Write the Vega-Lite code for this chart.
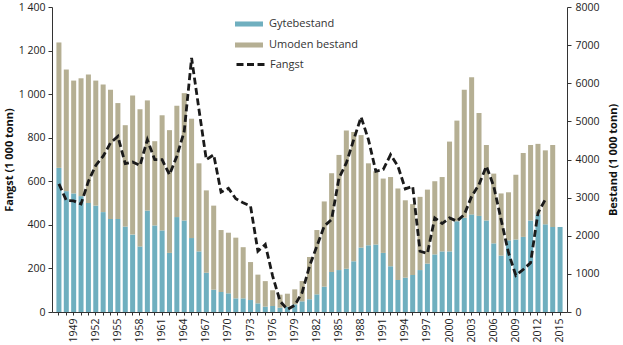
{
  "$schema": "https://vega.github.io/schema/vega-lite/v6.json",
  "width": 515,
  "height": 305,
  "autosize": {"type": "none"},
  "padding": {"left": 52, "top": 7, "right": 56, "bottom": 33},
  "config": {
    "view": {"stroke": null},
    "font": "Open Sans",
    "axis": {"labelFont": "Open Sans", "titleFont": "Open Sans", "domainColor": "#333", "tickColor": "#333", "labelColor": "#222", "titleColor": "#111", "grid": false, "labelFontSize": 10.5, "titleFontSize": 11, "titleFontWeight": "bold"},
    "legend": {"labelFont": "Open Sans", "labelFontSize": 11, "labelColor": "#333", "padding": 0}
  },
  "datasets": {
    "d": [
      {"year": 1947, "Gytebestand": 3780, "Umoden bestand": 3290, "Fangst": 588},
      {"year": 1948, "Gytebestand": 3170, "Umoden bestand": 3190, "Fangst": 512},
      {"year": 1949, "Gytebestand": 3110, "Umoden bestand": 2960, "Fangst": 510},
      {"year": 1950, "Gytebestand": 3040, "Umoden bestand": 3090, "Fangst": 496},
      {"year": 1951, "Gytebestand": 2860, "Umoden bestand": 3370, "Fangst": 600},
      {"year": 1952, "Gytebestand": 2790, "Umoden bestand": 3280, "Fangst": 673},
      {"year": 1953, "Gytebestand": 2620, "Umoden bestand": 3350, "Fangst": 715},
      {"year": 1954, "Gytebestand": 2440, "Umoden bestand": 3390, "Fangst": 776},
      {"year": 1955, "Gytebestand": 2440, "Umoden bestand": 3040, "Fangst": 806},
      {"year": 1956, "Gytebestand": 2240, "Umoden bestand": 2660, "Fangst": 681},
      {"year": 1957, "Gytebestand": 2030, "Umoden bestand": 3650, "Fangst": 689},
      {"year": 1958, "Gytebestand": 1720, "Umoden bestand": 3600, "Fangst": 672},
      {"year": 1959, "Gytebestand": 2660, "Umoden bestand": 2890, "Fangst": 791},
      {"year": 1960, "Gytebestand": 2270, "Umoden bestand": 2210, "Fangst": 699},
      {"year": 1961, "Gytebestand": 2140, "Umoden bestand": 3020, "Fangst": 699},
      {"year": 1962, "Gytebestand": 1550, "Umoden bestand": 3220, "Fangst": 630},
      {"year": 1963, "Gytebestand": 2490, "Umoden bestand": 2920, "Fangst": 715},
      {"year": 1964, "Gytebestand": 2400, "Umoden bestand": 3340, "Fangst": 829},
      {"year": 1965, "Gytebestand": 1940, "Umoden bestand": 3130, "Fangst": 1166},
      {"year": 1966, "Gytebestand": 1590, "Umoden bestand": 2310, "Fangst": 930},
      {"year": 1967, "Gytebestand": 1030, "Umoden bestand": 2160, "Fangst": 699},
      {"year": 1968, "Gytebestand": 585, "Umoden bestand": 2205, "Fangst": 722},
      {"year": 1969, "Gytebestand": 524, "Umoden bestand": 1626, "Fangst": 550},
      {"year": 1970, "Gytebestand": 490, "Umoden bestand": 1590, "Fangst": 568},
      {"year": 1971, "Gytebestand": 358, "Umoden bestand": 1592, "Fangst": 520},
      {"year": 1972, "Gytebestand": 358, "Umoden bestand": 1342, "Fangst": 501},
      {"year": 1973, "Gytebestand": 314, "Umoden bestand": 996, "Fangst": 486},
      {"year": 1974, "Gytebestand": 227, "Umoden bestand": 753, "Fangst": 279},
      {"year": 1975, "Gytebestand": 140, "Umoden bestand": 670, "Fangst": 310},
      {"year": 1976, "Gytebestand": 157, "Umoden bestand": 413, "Fangst": 165},
      {"year": 1977, "Gytebestand": 114, "Umoden bestand": 340, "Fangst": 50},
      {"year": 1978, "Gytebestand": 140, "Umoden bestand": 340, "Fangst": 12},
      {"year": 1979, "Gytebestand": 200, "Umoden bestand": 394, "Fangst": 31},
      {"year": 1980, "Gytebestand": 280, "Umoden bestand": 532, "Fangst": 89},
      {"year": 1981, "Gytebestand": 332, "Umoden bestand": 1108, "Fangst": 211},
      {"year": 1982, "Gytebestand": 463, "Umoden bestand": 1687, "Fangst": 302},
      {"year": 1983, "Gytebestand": 664, "Umoden bestand": 2236, "Fangst": 394},
      {"year": 1984, "Gytebestand": 1050, "Umoden bestand": 2590, "Fangst": 425},
      {"year": 1985, "Gytebestand": 1100, "Umoden bestand": 3020, "Fangst": 615},
      {"year": 1986, "Gytebestand": 1135, "Umoden bestand": 3625, "Fangst": 684},
      {"year": 1987, "Gytebestand": 1330, "Umoden bestand": 3390, "Fangst": 791},
      {"year": 1988, "Gytebestand": 1690, "Umoden bestand": 2950, "Fangst": 895},
      {"year": 1989, "Gytebestand": 1750, "Umoden bestand": 2150, "Fangst": 791},
      {"year": 1990, "Gytebestand": 1770, "Umoden bestand": 1920, "Fangst": 646},
      {"year": 1991, "Gytebestand": 1550, "Umoden bestand": 1950, "Fangst": 654},
      {"year": 1992, "Gytebestand": 1200, "Umoden bestand": 2340, "Fangst": 722},
      {"year": 1993, "Gytebestand": 840, "Umoden bestand": 2400, "Fangst": 669},
      {"year": 1994, "Gytebestand": 900, "Umoden bestand": 2030, "Fangst": 565},
      {"year": 1995, "Gytebestand": 970, "Umoden bestand": 1860, "Fangst": 577},
      {"year": 1996, "Gytebestand": 1100, "Umoden bestand": 1920, "Fangst": 279},
      {"year": 1997, "Gytebestand": 1270, "Umoden bestand": 1940, "Fangst": 269},
      {"year": 1998, "Gytebestand": 1510, "Umoden bestand": 1920, "Fangst": 432},
      {"year": 1999, "Gytebestand": 1590, "Umoden bestand": 1950, "Fangst": 406},
      {"year": 2000, "Gytebestand": 1590, "Umoden bestand": 2880, "Fangst": 432},
      {"year": 2001, "Gytebestand": 2380, "Umoden bestand": 2640, "Fangst": 417},
      {"year": 2002, "Gytebestand": 2470, "Umoden bestand": 3360, "Fangst": 447},
      {"year": 2003, "Gytebestand": 2560, "Umoden bestand": 3600, "Fangst": 531},
      {"year": 2004, "Gytebestand": 2520, "Umoden bestand": 2700, "Fangst": 585},
      {"year": 2005, "Gytebestand": 2400, "Umoden bestand": 1980, "Fangst": 669},
      {"year": 2006, "Gytebestand": 1800, "Umoden bestand": 1830, "Fangst": 577},
      {"year": 2007, "Gytebestand": 1480, "Umoden bestand": 1630, "Fangst": 424},
      {"year": 2008, "Gytebestand": 1880, "Umoden bestand": 1260, "Fangst": 272},
      {"year": 2009, "Gytebestand": 1900, "Umoden bestand": 1700, "Fangst": 168},
      {"year": 2010, "Gytebestand": 1970, "Umoden bestand": 2200, "Fangst": 195},
      {"year": 2011, "Gytebestand": 2400, "Umoden bestand": 1980, "Fangst": 226},
      {"year": 2012, "Gytebestand": 2560, "Umoden bestand": 1850, "Fangst": 455},
      {"year": 2013, "Gytebestand": 2300, "Umoden bestand": 1940, "Fangst": 516},
      {"year": 2014, "Gytebestand": 2230, "Umoden bestand": 2150, "Fangst": null},
      {"year": 2015, "Gytebestand": 2230, "Umoden bestand": 0, "Fangst": null}
    ]
  },
  "data": {"name": "d"},
  "encoding": {
    "x": {
      "field": "year",
      "type": "ordinal",
      "scale": {"paddingInner": 0.32, "paddingOuter": 0.6},
      "axis": {
        "title": null,
        "labelAngle": -90,
        "labelAlign": "right",
        "labelBaseline": "middle",
        "labelExpr": "(datum.value - 1949) % 3 == 0 ? datum.value : ''",
        "labelOverlap": false,
        "tickSize": 3,
        "labelPadding": 3
      }
    }
  },
  "layer": [
    {
      "transform": [{"fold": ["Gytebestand", "Umoden bestand"], "as": ["serie", "value"]}],
      "mark": {"type": "bar"},
      "encoding": {
        "y": {
          "field": "value",
          "type": "quantitative",
          "stack": "zero",
          "scale": {"domain": [0, 8000], "nice": false},
          "axis": {"orient": "right", "title": "Bestand (1 000 tonn)", "values": [0, 1000, 2000, 3000, 4000, 5000, 6000, 7000, 8000], "format": "d", "tickSize": 4, "labelPadding": 4, "titleAngle": 270, "titlePadding": 19}
        },
        "color": {
          "field": "serie",
          "type": "nominal",
          "scale": {"domain": ["Gytebestand", "Umoden bestand"], "range": ["#6fafbf", "#b5af93"]},
          "legend": {"title": null, "orient": "none", "legendX": 183, "legendY": 3, "symbolType": "M-1,-0.18L1,-0.18L1,0.18L-1,0.18Z", "symbolSize": 784, "symbolStrokeWidth": 0, "labelOffset": 6, "rowPadding": 2}
        },
        "order": {"field": "serie", "sort": "ascending"}
      }
    },
    {
      "mark": {"type": "line", "strokeWidth": 2.8, "color": "#1a1a1a", "strokeCap": "butt"},
      "encoding": {
        "y": {
          "field": "Fangst",
          "type": "quantitative",
          "scale": {"domain": [0, 1400], "nice": false},
          "axis": {"orient": "left", "title": "Fangst (1 000 tonn)", "values": [0, 200, 400, 600, 800, 1000, 1200, 1400], "format": ",d", "labelExpr": "replace(datum.label, ',', ' ')", "tickSize": 4, "labelPadding": 3, "titlePadding": 4}
        },
        "strokeDash": {
          "datum": "Fangst",
          "type": "nominal",
          "scale": {"domain": ["Fangst"], "range": [[7, 3.5]]},
          "legend": {"title": null, "orient": "none", "legendX": 183, "legendY": 42, "symbolType": "stroke", "symbolSize": 784, "symbolStrokeWidth": 2.8, "symbolStrokeColor": "#1a1a1a", "labelOffset": 4}
        }
      }
    }
  ],
  "resolve": {"scale": {"y": "independent", "color": "independent", "strokeDash": "independent"}}
}
